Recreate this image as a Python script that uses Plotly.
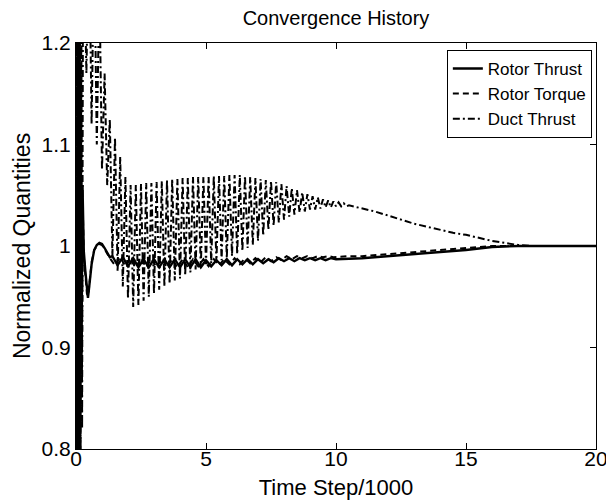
import plotly.graph_objects as go

# ---------------- data ----------------
x_ticks = [0, 5, 10, 15, 20]
x_tick_labels = ["0", "5", "10", "15", "20"]
y_ticks = [0.8, 0.9, 1.0, 1.1, 1.2]
y_tick_labels = ["0.8", "0.9", "1", "1.1", "1.2"]

series_names = ["Rotor Thrust", "Rotor Torque", "Duct Thrust"]

thrust_x = [0, 0.03, 0.06, 0.09, 0.12, 0.15, 0.18, 0.21, 0.25, 0.3, 0.36, 0.42, 0.46, 0.5,
            0.6, 0.7, 0.8, 0.9, 1.0, 1.1, 1.2, 1.3,
            1.4, 1.6, 1.8, 2.0, 2.2, 2.4, 2.6, 2.8, 3.0, 3.2, 3.4, 3.6, 3.8, 4.0, 4.2, 4.4,
            4.6, 4.8, 5.0, 5.2, 5.4, 5.6, 5.8, 6.0, 6.2, 6.4, 6.6, 6.8, 7.0, 7.2, 7.4, 7.6,
            7.8, 8.0, 8.2, 8.4, 8.6, 8.8, 9.0, 9.2, 9.4, 9.6, 9.8, 10.0,
            11, 12, 13, 14, 15, 16, 17, 18, 20]
thrust_y = [1.0, 0.72, 1.28, 0.76, 1.24, 0.8, 1.18, 0.88, 1.06, 0.995, 0.975, 0.955, 0.949, 0.958,
            0.982, 0.996, 1.001, 1.003, 1.002, 0.998, 0.993, 0.989,
            0.990, 0.981, 0.989, 0.980, 0.988, 0.979, 0.987, 0.979, 0.987, 0.979, 0.987, 0.979, 0.987, 0.979, 0.987, 0.979,
            0.987, 0.979, 0.986, 0.980, 0.986, 0.981, 0.987, 0.981, 0.987, 0.982, 0.987, 0.982, 0.987, 0.983, 0.987, 0.984,
            0.988, 0.985, 0.988, 0.985, 0.988, 0.986, 0.988, 0.986, 0.988, 0.986, 0.988, 0.987,
            0.988, 0.990, 0.992, 0.994, 0.996, 0.999, 1.0, 1.0, 1.0]

torque_x = [0, 0.015, 0.045, 0.075, 0.105, 0.135, 0.165, 0.195, 0.225, 0.26, 0.3, 0.36, 0.42, 0.47, 0.52,
            0.6, 0.7, 0.8, 0.9, 1.0, 1.1, 1.2, 1.3,
            1.5, 1.7, 1.9, 2.1, 2.3, 2.5, 2.7, 2.9, 3.1, 3.3, 3.5, 3.7, 3.9, 4.1, 4.3, 4.5,
            4.7, 4.9, 5.1, 5.3, 5.5, 5.7, 5.9, 6.1, 6.3, 6.5, 6.7, 6.9, 7.1, 7.3, 7.5, 7.7,
            7.9, 8.1, 8.3, 8.5, 8.7, 8.9, 9.1, 9.3, 9.5, 9.7, 9.9,
            10.5, 11, 12, 13, 14, 15, 16, 17, 20]
torque_y = [1.0, 1.3, 0.7, 1.26, 0.74, 1.22, 0.79, 1.15, 0.86, 1.04, 0.99, 0.972, 0.953, 0.951, 0.962,
            0.984, 0.996, 1.0, 1.002, 1.001, 0.997, 0.992, 0.988,
            0.981, 0.989, 0.980, 0.988, 0.979, 0.988, 0.979, 0.987, 0.979, 0.987, 0.979, 0.987, 0.979, 0.987, 0.979, 0.987,
            0.980, 0.987, 0.980, 0.987, 0.981, 0.987, 0.982, 0.988, 0.982, 0.988, 0.983, 0.988, 0.984, 0.989, 0.985, 0.989,
            0.986, 0.990, 0.987, 0.990, 0.988, 0.990, 0.988, 0.990, 0.989, 0.990, 0.989,
            0.990, 0.990, 0.992, 0.994, 0.996, 0.998, 1.0, 1.0, 1.0]

duct_x = [0, 0.025, 0.055, 0.085, 0.115, 0.145, 0.175, 0.205, 0.235, 0.265,
          0.3, 0.4, 0.5, 0.6, 0.7, 0.8, 0.9, 1.0, 1.1, 1.2, 1.3, 1.4, 1.5, 1.6, 1.7, 1.8, 1.9,
          2.0, 2.1, 2.2, 2.3, 2.4, 2.5, 2.6, 2.7, 2.8, 2.9, 3.0, 3.1, 3.2, 3.3, 3.4, 3.5, 3.6,
          3.7, 3.8, 3.9, 4.0, 4.1, 4.2, 4.3, 4.4, 4.5, 4.6, 4.7, 4.8, 4.9, 5.0, 5.1, 5.2, 5.3,
          5.4, 5.5, 5.6, 5.7, 5.8, 5.9, 6.0, 6.1, 6.2, 6.3, 6.4, 6.5, 6.6, 6.7, 6.8, 6.9, 7.0,
          7.1, 7.2, 7.3, 7.4, 7.5, 7.6, 7.7, 7.8, 7.9, 8.0, 8.1, 8.2, 8.3, 8.4, 8.5, 8.6, 8.7,
          8.8, 8.9, 9.0, 9.1, 9.2, 9.3, 9.4, 9.5, 9.6, 9.7, 9.8, 9.9, 10.0, 10.1, 10.2, 10.3,
          10.4, 10.5,
          11.0, 11.5, 12.0, 12.5, 13.0, 13.5, 14.0, 14.5, 15.0, 15.5, 16.0, 16.5, 17.0, 17.5, 18.0, 20.0]
duct_y = [1.0, 1.32, 0.74, 1.3, 0.76, 1.27, 0.79, 1.25, 0.82, 1.22,
          1.30, 1.17, 1.32, 1.12, 1.30, 1.10, 1.26, 1.075, 1.17, 1.06, 1.125, 0.99, 1.107, 0.975, 1.088, 0.96, 1.068,
          0.948, 1.060, 0.940, 1.060, 0.942, 1.061, 0.946, 1.062, 0.950, 1.062, 0.953, 1.063, 0.957, 1.064, 0.960, 1.065, 0.963,
          1.066, 0.966, 1.066, 0.968, 1.067, 0.971, 1.067, 0.974, 1.068, 0.977, 1.068, 0.979, 1.068, 0.982, 1.068, 0.983, 1.069,
          0.984, 1.069, 0.986, 1.069, 0.988, 1.070, 0.990, 1.070, 0.992, 1.070, 0.995, 1.069, 0.998, 1.068, 1.001, 1.067, 1.005,
          1.066, 1.010, 1.065, 1.016, 1.064, 1.020, 1.063, 1.023, 1.061, 1.026, 1.059, 1.029, 1.057, 1.031, 1.055, 1.033, 1.053,
          1.034, 1.051, 1.036, 1.049, 1.036, 1.048, 1.037, 1.046, 1.038, 1.045, 1.038, 1.044, 1.039, 1.043, 1.039, 1.042,
          1.039, 1.040,
          1.037, 1.034, 1.030, 1.026, 1.022, 1.019, 1.016, 1.013, 1.011, 1.008, 1.005, 1.003, 1.001, 1.0, 1.0, 1.0]

# ---------------- figure ----------------
FONT = "Liberation Sans, Arial, Helvetica, sans-serif"

fig = go.Figure()
fig.add_trace(go.Scatter(x=thrust_x, y=thrust_y, mode="lines", name=series_names[0],
                         line=dict(color="black", width=2.4, dash="solid")))
fig.add_trace(go.Scatter(x=torque_x, y=torque_y, mode="lines", name=series_names[1],
                         line=dict(color="black", width=2.0, dash="6px,4px")))
fig.add_trace(go.Scatter(x=duct_x, y=duct_y, mode="lines", name=series_names[2],
                         line=dict(color="black", width=2.0, dash="7px,3px,2px,3px")))

axis_common = dict(showline=True, linecolor="black", linewidth=1.2, mirror="ticks",
                   ticks="inside", ticklen=6, tickcolor="black", showgrid=False,
                   zeroline=False, automargin=False,
                   tickfont=dict(family=FONT, size=21, color="black"))

fig.update_layout(
    width=606, height=492,
    paper_bgcolor="white", plot_bgcolor="white",
    margin=dict(l=68, r=18, t=35, b=51),
    title=dict(text="Convergence History", x=0.5, xref="paper", y=0.994, yref="container",
               yanchor="top", pad=dict(t=0, b=0),
               font=dict(family=FONT, size=20, color="black")),
    xaxis=dict(range=[0, 20], tickvals=x_ticks, ticktext=x_tick_labels, ticklabelstandoff=-9,
               title=dict(text="Time Step/1000", standoff=12, font=dict(family=FONT, size=22, color="black")),
               **axis_common),
    yaxis=dict(range=[0.8, 1.2], tickvals=y_ticks, ticktext=y_tick_labels,
               title=dict(text="Normalized Quantities", standoff=4, font=dict(family=FONT, size=23, color="black")),
               **axis_common),
    legend=dict(x=0.992, y=0.983, xanchor="right", yanchor="top", bgcolor="white",
                bordercolor="black", borderwidth=1, font=dict(family=FONT, size=17, color="black"),
                tracegroupgap=0, itemwidth=30),
    showlegend=True,
)

fig.write_html("out.html")
